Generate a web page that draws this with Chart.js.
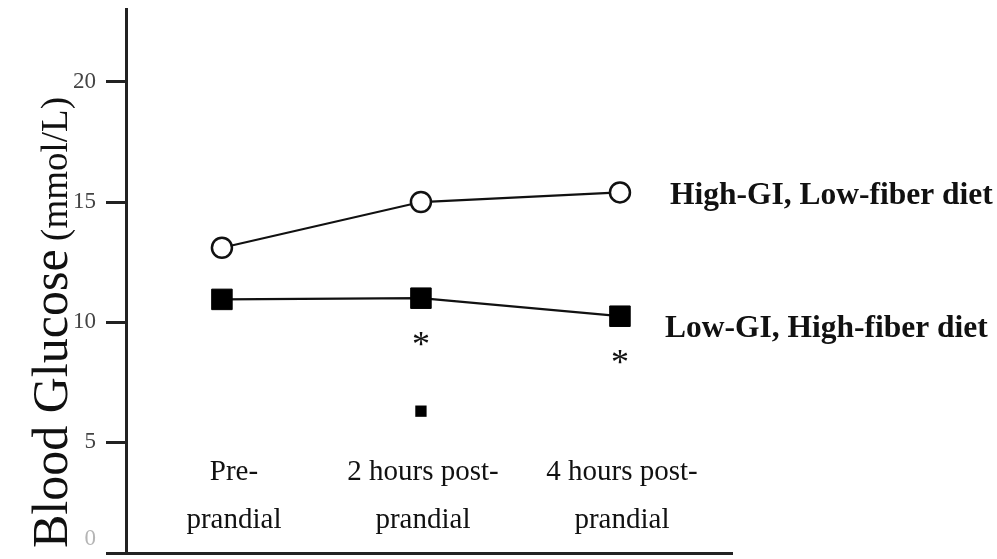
<!DOCTYPE html>
<html lang="en">
<head>
<meta charset="UTF-8">
<title>Blood Glucose</title>
<script src="https://cdn.jsdelivr.net/npm/chart.js"></script>
<style>
  html, body { margin: 0; padding: 0; background: #fff; }
  canvas { display: block; }
</style>
</head>
<body>
<canvas id="glucoseChart" width="997" height="559"></canvas>
<script>
// time of measurement (x categories)
const timeLabels = [['Pre-', 'prandial'], ['2 hours post-', 'prandial'], ['4 hours post-', 'prandial']];
const timeX = [1, 2, 3];
// blood glucose (mmol/L)
const highGI = [13.1, 15.0, 15.4];
const lowGI = [10.95, 11.0, 10.25];
const seriesNames = ['High-GI, Low-fiber diet', 'Low-GI, High-fiber diet'];
// small square under the 2 h point
const extraX = [2];
const extraY = [6.3];
// low-GI points marked with an asterisk
const starIndex = [1, 2];
const yTicks = [0, 5, 10, 15, 20];
const yTitle = ['Blood Glucose', '(mmol/L)'];

const serif = "'Liberation Serif', 'Times New Roman', serif";

function toPoints(xs, ys) {
    return xs.map((x, i) => ({ x: x, y: ys[i] }));
}

// text that sits around the plot: axis title, category labels, series names, asterisks
const annotations = {
    id: 'annotations',
    afterDraw(chart) {
        const ctx = chart.ctx;
        const xs = chart.scales.x;
        const ys = chart.scales.y;
        ctx.save();
        ctx.fillStyle = '#111';

        // y axis title, two sizes
        ctx.save();
        ctx.translate(67, 548);
        ctx.rotate(-Math.PI / 2);
        ctx.textAlign = 'left';
        ctx.textBaseline = 'alphabetic';
        ctx.font = '50px ' + serif;
        ctx.fillText(yTitle[0], 0, 0);
        const w = ctx.measureText(yTitle[0] + ' ').width;
        ctx.font = '37px ' + serif;
        ctx.fillText(yTitle[1], w - 4, 0);
        ctx.restore();

        // category labels inside the plot
        ctx.font = '29px ' + serif;
        ctx.textAlign = 'center';
        ctx.textBaseline = 'middle';
        timeLabels.forEach((lines, i) => {
            const px = xs.getPixelForValue(timeX[i]) + (i === 0 ? 12 : 2);
            lines.forEach((t, j) => ctx.fillText(t, px, 472 + j * 48));
        });

        // series names at the end of each line
        ctx.font = 'bold 31.5px ' + serif;
        ctx.textAlign = 'left';
        [highGI, lowGI].forEach((vals, k) => {
            const last = vals.length - 1;
            const px = xs.getPixelForValue(timeX[last]);
            const py = ys.getPixelForValue(vals[last]);
            ctx.fillText(seriesNames[k], px + 50 - k * 5, py + 3 + k * 10);
        });

        // asterisks under the low-GI points
        ctx.font = '36px ' + serif;
        ctx.textAlign = 'center';
        starIndex.forEach(i => {
            const px = xs.getPixelForValue(timeX[i]);
            const py = ys.getPixelForValue(lowGI[i]);
            ctx.fillText('*', px, py + 48);
        });
        ctx.restore();
    }
};

new Chart(document.getElementById('glucoseChart'), {
    type: 'line',
    data: {
        datasets: [{
            label: seriesNames[0],
            data: toPoints(timeX, highGI),
            borderColor: '#111',
            borderWidth: 2.2,
            pointStyle: 'circle',
            pointRadius: 10,
            pointBackgroundColor: '#fff',
            pointBorderColor: '#111',
            pointBorderWidth: 2.5
        }, {
            label: seriesNames[1],
            data: toPoints(timeX, lowGI),
            borderColor: '#111',
            borderWidth: 2.2,
            pointStyle: 'rect',
            pointRadius: 14.5,
            pointBackgroundColor: '#000',
            pointBorderColor: '#000',
            pointBorderWidth: 1
        }, {
            label: 'extra',
            data: toPoints(extraX, extraY),
            showLine: false,
            pointStyle: 'rect',
            pointRadius: 8,
            pointBackgroundColor: '#000',
            pointBorderColor: '#000',
            pointBorderWidth: 0
        }]
    },
    options: {
        responsive: false,
        animation: false,
        devicePixelRatio: 1,
        layout: { autoPadding: false, padding: { top: 9, right: 265, bottom: 6, left: 0 } },
        plugins: {
            legend: { display: false },
            tooltip: { enabled: false }
        },
        scales: {
            x: {
                type: 'linear',
                min: 0.518,
                max: 3.563,
                grid: { display: false },
                ticks: { display: false },
                border: { color: '#222', width: 3 },
                afterFit(scale) {
                    scale.height = 0;
                    scale.paddingLeft = 0;
                    scale.paddingRight = 0;
                }
            },
            y: {
                min: 0.4,
                max: 23.03,
                afterBuildTicks(scale) {
                    scale.ticks = yTicks.map(v => ({ value: Math.max(v, 0.4) }));
                },
                grid: {
                    drawOnChartArea: false,
                    tickLength: 20,
                    tickWidth: 3,
                    tickColor: '#222'
                },
                border: { color: '#222', width: 3 },
                ticks: {
                    padding: 10,
                    color: ctx => (ctx.index === 0 ? '#b5b5b5' : '#444'),
                    font: { family: serif, size: 23 },
                    // the 0 label sits a little above the axis line
                    callback: (v, i) => (i === 0 ? [String(yTicks[i]), ''] : String(yTicks[i]))
                },
                afterFit(scale) {
                    scale.width = 126;
                    scale.paddingTop = 0;
                    scale.paddingBottom = 0;
                }
            }
        }
    },
    plugins: [annotations]
});
</script>
</body>
</html>
